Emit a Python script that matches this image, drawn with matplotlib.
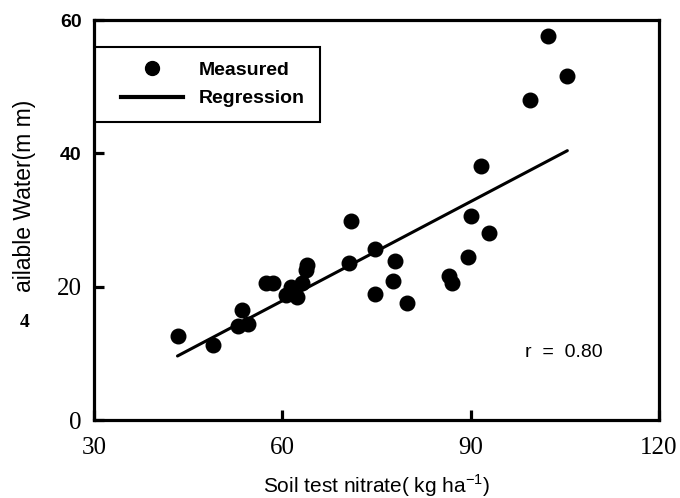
import matplotlib.pyplot as plt
from matplotlib.patches import Rectangle
from matplotlib.lines import Line2D

# measured points
nitrate = [43.4, 48.9, 52.9, 53.5, 54.5, 57.4, 58.5, 60.6, 61.4, 62.4, 63.2, 63.8,
           64.0, 70.6, 70.9, 74.7, 74.8, 77.7, 78.0, 79.9, 86.5, 87.0, 89.6, 90.0,
           91.7, 92.9, 99.4, 102.3, 105.3]
water = [12.6, 11.2, 14.1, 16.5, 14.4, 20.5, 20.5, 18.7, 20.0, 18.5, 20.5, 22.5,
         23.2, 23.5, 29.8, 18.9, 25.6, 20.9, 23.9, 17.6, 21.6, 20.5, 24.5, 30.6,
         38.1, 28.1, 48.0, 57.6, 51.6]

# regression line ends
reg_x = [43.3, 105.4]
reg_y = [9.6, 40.4]

xticks = [30, 60, 90, 120]
yticks = [0, 20, 40, 60]

fig = plt.figure(figsize=(6.8, 4.98), dpi=100)
ax = fig.add_axes([94/680, 78/498, 565/680, 400/498])

ax.scatter(nitrate, water, s=110, color='black', zorder=3)
ax.plot(reg_x, reg_y, color='black', lw=2.2, solid_capstyle='round')

ax.set_xlim(30, 120)
ax.set_ylim(0, 60)
for sp in ax.spines.values():
    sp.set_linewidth(2.3)

ax.set_xticks(xticks)
ax.set_yticks(yticks)
ax.tick_params(direction='in', length=7, width=2.3)
ax.tick_params(axis='x', pad=12)
ax.tick_params(axis='y', pad=9)
ax.set_xticklabels([str(t) for t in xticks])
ax.set_yticklabels([str(t) for t in yticks])
for lab in ax.get_xticklabels():
    lab.set_fontfamily('Liberation Serif')
    lab.set_fontsize(18)
for lab, t in zip(ax.get_yticklabels(), yticks):
    if t >= 40:
        lab.set_fontfamily('Liberation Sans')
        lab.set_fontweight('bold')
        lab.set_fontsize(14)
    else:
        lab.set_fontfamily('Liberation Serif')
        lab.set_fontsize(18)

ax.set_xlabel('Soil test nitrate( kg ha$^{\\mathregular{-1}}$)', fontsize=15,
              family='Liberation Sans', labelpad=10)
fig.text(25/680, 1 - 196/498, 'ailable Water(m m)', rotation=90, ha='center', va='center',
         fontsize=16.5, family='Liberation Sans')
fig.text(25/680, 1 - 322/498, '4', ha='center', va='center', fontsize=14,
         family='Liberation Serif', fontweight='bold')

ax.text(0.832, 0.17, 'r  =  0.80', transform=ax.transAxes, fontsize=14,
        family='Liberation Sans', ha='center', va='center')

# legend box
box = Rectangle((0, 0.745), 0.4, 0.1875, transform=ax.transAxes, fill=False,
                lw=1.5, edgecolor='black')
ax.add_patch(box)
handles = [Line2D([], [], marker='o', color='black', ls='none', markersize=10),
           Line2D([], [], color='black', lw=3)]
ax.legend(handles, ['Measured', 'Regression'], loc='center',
          bbox_to_anchor=(0.21, 0.745 + 0.1875/2), frameon=False,
          prop={'family': 'Liberation Sans', 'weight': 'bold', 'size': 14},
          handlelength=3.2, handletextpad=0.8, labelspacing=0.55)

fig.savefig('out.png', dpi=100)
